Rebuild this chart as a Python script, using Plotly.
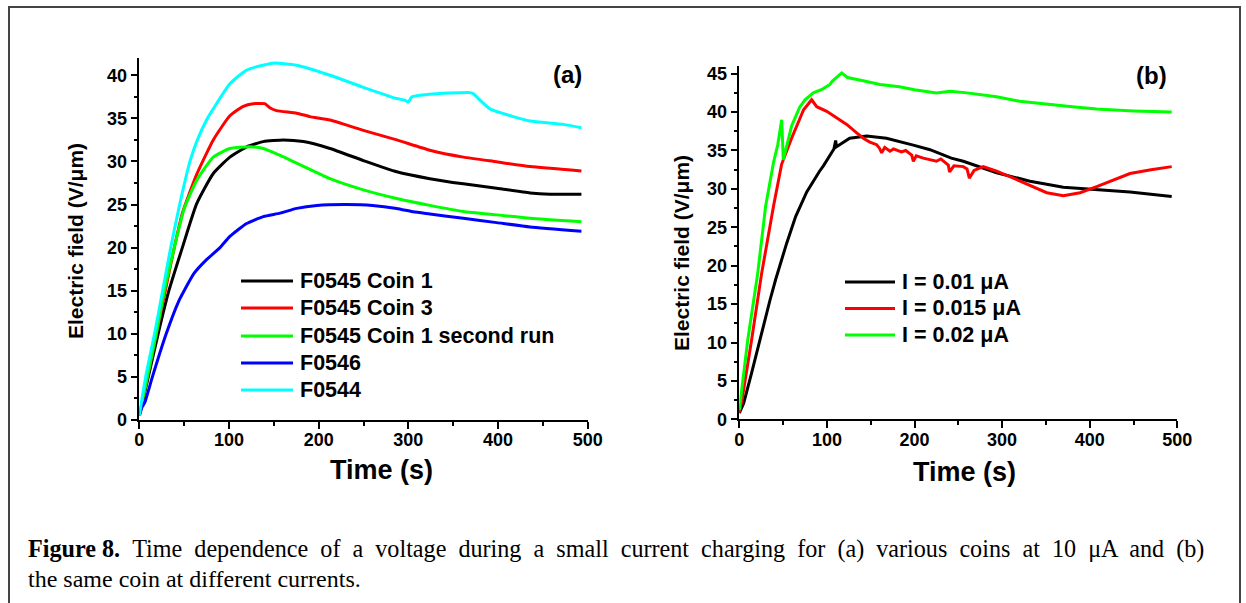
import plotly.graph_objects as go

# ---------------- data: panel (a) ----------------
names_a = ["F0545 Coin 1", "F0545 Coin 3", "F0545 Coin 1 second run", "F0546", "F0544"]
colors_a = ["#000000", "#FF0000", "#00FF00", "#0000FF", "#00FFFF"]

t_a_coin1 = [0, 3, 10, 21, 33, 48, 64, 82.5, 101, 119.7, 138.3, 160.6, 183, 212.6, 249.8, 287, 324, 361.3, 398.5, 435.7, 458, 493]
v_a_coin1 = [0.5, 1.8, 5, 10, 15, 20, 25.1, 28.6, 30.5, 31.7, 32.3, 32.5, 32.3, 31.5, 30.1, 28.8, 28.0, 27.4, 26.9, 26.35, 26.2, 26.2]

t_a_coin3 = [0, 3, 10, 19, 29, 39, 48, 64, 82.5, 101, 116, 127, 140, 146, 153, 175.5, 190, 212.6, 249.8, 287, 324, 361.3, 398.5, 435.7, 493]
v_a_coin3 = [0.5, 2, 5.5, 10, 15, 20, 24, 28.5, 32.5, 35.3, 36.4, 36.7, 36.7, 36.2, 35.9, 35.6, 35.2, 34.8, 33.6, 32.5, 31.3, 30.5, 29.95, 29.4, 28.9]

t_a_coin1b = [0, 3, 10, 19, 28, 39, 50, 64, 82.5, 101, 123.4, 138.3, 157, 175.5, 212.6, 249.8, 287, 324, 361.3, 398.5, 435.7, 493]
v_a_coin1b = [0.5, 2, 5.5, 10, 15, 20, 24.5, 27.8, 30.5, 31.5, 31.7, 31.5, 30.7, 29.8, 28.0, 26.7, 25.7, 24.9, 24.2, 23.8, 23.4, 23.0]

t_a_f0546 = [0, 3, 6, 14.6, 30, 44, 50, 61, 75, 90, 101, 119.7, 138.3, 157, 175.5, 198, 231, 260, 287, 305.6, 324, 361.3, 398.5, 435.7, 493]
v_a_f0546 = [0.5, 1.5, 2, 5, 10, 13.8, 15, 17.0, 18.6, 20.0, 21.3, 22.8, 23.6, 24.0, 24.55, 24.9, 25.0, 24.9, 24.55, 24.15, 23.9, 23.4, 22.9, 22.4, 21.9]

t_a_f0544 = [0, 3, 8, 17, 26, 35, 45, 56.5, 64, 76, 82.5, 101, 119.7, 149, 175.5, 212.6, 249.8, 287, 296, 300, 304, 324, 366.9, 372, 380, 391, 417, 435.7, 472.8, 493]
v_a_f0544 = [0.5, 2.5, 5.5, 10, 15, 20, 25, 30, 32.3, 35, 36.1, 39.0, 40.6, 41.4, 41.16, 40.0, 38.6, 37.3, 37.1, 36.9, 37.5, 37.8, 38.0, 37.9, 37.1, 36.1, 35.2, 34.7, 34.3, 33.9]

# ---------------- data: panel (b) ----------------
names_b = ["I = 0.01 \u03bcA", "I = 0.015 \u03bcA", "I = 0.02 \u03bcA"]
colors_b = ["#000000", "#FF0000", "#00FF00"]

t_b_001 = [0, 3, 5, 14, 27.8, 35, 41.5, 54, 64.3, 77, 91.6, 96, 108, 110, 111, 126, 145.4, 168, 198.6, 217.7, 242, 255.7, 293.8, 331.8, 369.9, 408, 446, 493.6]
v_b_001 = [0.8, 1.5, 2.1, 6, 12.5, 15.5, 18.2, 22.9, 26.4, 29.6, 32.3, 33.0, 35.2, 36.3, 35.5, 36.6, 36.9, 36.6, 35.7, 35.1, 34.0, 33.6, 32.1, 31.0, 30.2, 29.9, 29.6, 29.0]

t_b_0015 = [0, 3, 14, 25.5, 39, 48.3, 59.7, 73.4, 82.6, 85, 88.4, 99.8, 111.2, 122.6, 134, 141.6, 149, 156.8, 160, 162.5, 166, 172, 176, 179.7, 185, 190, 196.8, 198.7, 202, 210, 217.7, 225, 230, 238.6, 240, 245, 255.7, 260, 262.6, 268, 278.5, 293.8, 312.8, 331.8, 351, 369.9, 389, 408, 427, 446, 470, 493.6]
v_b_0015 = [0.9, 2.5, 10.3, 19, 27.7, 33.2, 36.6, 40.3, 41.6, 41.2, 40.7, 40.1, 39.2, 38.4, 37.3, 36.6, 36.1, 35.75, 35.3, 34.7, 35.4, 34.9, 35.2, 35.0, 34.8, 35.0, 34.4, 33.6, 34.3, 34.0, 33.8, 33.6, 33.9, 33.1, 32.2, 33.0, 32.9, 32.6, 31.4, 32.4, 32.9, 32.3, 31.4, 30.5, 29.5, 29.1, 29.5, 30.3, 31.2, 32.0, 32.5, 32.9]

t_b_002 = [0, 3, 9.6, 21, 30, 39, 44, 48.4, 50.2, 55, 59.7, 68.8, 75, 84.5, 95, 103.5, 106, 116.9, 123.5, 140, 160.6, 182.8, 200, 225, 240.5, 260, 293.8, 320, 351, 380, 408, 450, 493.6]
v_b_002 = [1.2, 4, 10.3, 19, 27.7, 33.4, 35.8, 39.0, 33.8, 36.0, 38.2, 40.6, 41.6, 42.5, 43.0, 43.6, 44.0, 45.1, 44.5, 44.1, 43.6, 43.3, 42.9, 42.5, 42.7, 42.5, 42.0, 41.4, 41.0, 40.7, 40.4, 40.15, 40.0]

x_ticks = [0, 100, 200, 300, 400, 500]

caption_line1 = ["<b>Figure 8.</b>", "Time", "dependence", "of", "a", "voltage", "during", "a", "small",
                 "current", "charging", "for", "(a)", "various", "coins", "at", "10", "\u03bcA", "and", "(b)"]
caption_line2 = "the same coin at different currents."

# ---------------- layout helpers ----------------
W, H = 1246, 603


def px(x):
    return x / W


def py(y):
    return 1 - y / H


SANS = "Liberation Sans, Arial, sans-serif"
SERIF = "Liberation Serif, Times New Roman, serif"

fig = go.Figure()

series_a = [(t_a_coin1, v_a_coin1), (t_a_coin3, v_a_coin3), (t_a_coin1b, v_a_coin1b),
            (t_a_f0546, v_a_f0546), (t_a_f0544, v_a_f0544)]
for name, col, (t, v) in zip(names_a, colors_a, series_a):
    fig.add_trace(go.Scatter(x=t, y=v, mode="lines", name=name, showlegend=False,
                             line=dict(color=col, width=3, shape="spline", smoothing=0.5),
                             xaxis="x", yaxis="y"))

series_b = [(t_b_001, v_b_001), (t_b_0015, v_b_0015), (t_b_002, v_b_002)]
for name, col, (t, v) in zip(names_b, colors_b, series_b):
    fig.add_trace(go.Scatter(x=t, y=v, mode="lines", name=name, showlegend=False,
                             line=dict(color=col, width=3),
                             xaxis="x2", yaxis="y2"))

tickfont = dict(family=SANS, size=18, color="black", weight="bold")


def xax(domain, anchor):
    return dict(domain=domain, anchor=anchor, range=[0, 500], tickvals=x_ticks,
                automargin=False, ticklabelstandoff=-4,
                showline=True, linecolor="black", linewidth=1.5,
                ticks="outside", ticklen=7, tickwidth=1.5, tickcolor="black",
                minor=dict(ticks="outside", ticklen=4, dtick=50, tick0=0,
                           tickcolor="black", tickwidth=1.5),
                showgrid=False, zeroline=False, tickfont=tickfont)


def yax(domain, anchor, top):
    return dict(domain=domain, anchor=anchor, range=[0, top], dtick=5, tick0=0,
                automargin=False,
                showline=True, linecolor="black", linewidth=1.5,
                ticks="outside", ticklen=7, tickwidth=1.5, tickcolor="black",
                minor=dict(ticks="outside", ticklen=4, dtick=2.5, tick0=0,
                           tickcolor="black", tickwidth=1.5),
                showgrid=False, zeroline=False, tickfont=tickfont)


annotations = []
shapes = []


def label(x, y, text, size, xanchor="center", angle=0, family=SANS, bold=True):
    font = dict(family=family, size=size, color="black")
    if bold:
        font["weight"] = "bold"
    annotations.append(dict(xref="paper", yref="paper", x=px(x), y=py(y),
                            xanchor=xanchor, yanchor="middle", showarrow=False,
                            textangle=angle, text=text, font=font))


# legends (panel a)
leg_a_rows = [281, 308, 336, 363, 390]
for name, col, yy in zip(names_a, colors_a, leg_a_rows):
    shapes.append(dict(type="line", xref="paper", yref="paper",
                       x0=px(241), x1=px(293), y0=py(yy), y1=py(yy),
                       line=dict(color=col, width=3)))
    label(298, yy, name, 21.5, xanchor="left")

# legends (panel b)
leg_b_rows = [282, 308.5, 335]
for name, col, yy in zip(names_b, colors_b, leg_b_rows):
    shapes.append(dict(type="line", xref="paper", yref="paper",
                       x0=px(845), x1=px(895), y0=py(yy), y1=py(yy),
                       line=dict(color=col, width=3)))
    label(900, yy, name, 21.5, xanchor="left")

# panel labels
label(567, 74, "(a)", 24)
label(1151, 75, "(b)", 24)

# axis titles
label(381, 470, "Time (s)", 27)
label(964, 472, "Time (s)", 27)
label(75, 241, "Electric field (V/\u03bcm)", 21, angle=-90)
label(681, 253, "Electric field (V/\u03bcm)", 21, angle=-90)

# caption (first line is justified in the reference: widen word gaps)
label(26, 549, " \u00a0".join(caption_line1), 24.15, xanchor="left", family=SERIF, bold=False)
label(26, 579, caption_line2, 24, xanchor="left", family=SERIF, bold=False)

# outer frame
shapes.append(dict(type="rect", xref="paper", yref="paper", x0=px(9), x1=px(1240), y0=py(7), y1=py(640),
                   line=dict(color="#444444", width=2), fillcolor="rgba(0,0,0,0)", layer="below"))

fig.update_layout(
    template="none",
    width=W, height=H, autosize=False,
    margin=dict(l=0, r=0, t=0, b=0, autoexpand=False),
    paper_bgcolor="white", plot_bgcolor="white",
    font=dict(family=SANS, color="black"),
    showlegend=False,
    xaxis=xax([px(139.3), px(587.7)], "y"),
    yaxis=yax([py(420), py(58)], "x", 42),
    xaxis2=xax([px(739.3), px(1177.3)], "y2"),
    yaxis2=yax([py(419.3), py(66)], "x2", 46),
    annotations=annotations,
    shapes=shapes,
)

fig.write_html("out.html", config={"displayModeBar": False},
               post_script="document.body.style.margin='0';document.body.style.padding='0';"
                           "document.body.style.overflow='hidden';")
